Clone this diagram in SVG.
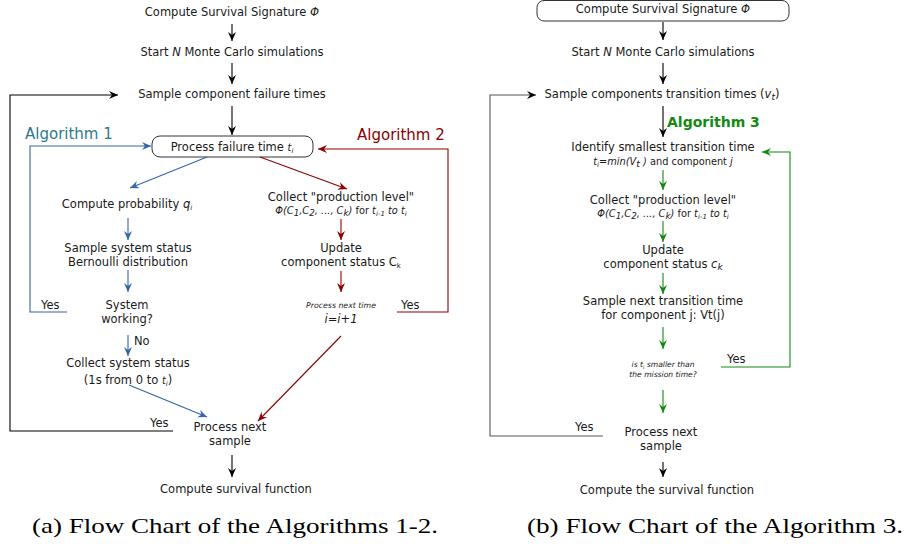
<svg xmlns="http://www.w3.org/2000/svg" width="907" height="550" viewBox="0 0 907 550">
<style>
text{font-family:"DejaVu Sans",Verdana,sans-serif;font-size:11.5px;fill:#1a1a1a}
.c{text-anchor:middle}
.i{font-style:italic}
.sm{font-size:9.8px}
.xs{font-size:7.8px;font-style:italic}
.sub{font-size:7px}
.fs{font-size:8.8px}
.cap{font-family:"Liberation Serif","DejaVu Serif",serif;font-size:21px;fill:#000}
.k{fill:none;stroke:#000;stroke-width:1.1}
.b{fill:none;stroke:#3465a4;stroke-width:1.1}
.r{fill:none;stroke:#8b0000;stroke-width:1.1}
.g{fill:none;stroke:#128a12;stroke-width:1.1}
</style>
<defs>
<marker id="ak" markerUnits="userSpaceOnUse" markerWidth="12" markerHeight="10" refX="0" refY="0" viewBox="-10 -5 12 10" orient="auto"><path d="M0,0 L-9,-4 L-6,0 L-9,4 z" fill="#000"/></marker>
<marker id="ab" markerUnits="userSpaceOnUse" markerWidth="12" markerHeight="10" refX="0" refY="0" viewBox="-10 -5 12 10" orient="auto"><path d="M0,0 L-9,-4 L-6,0 L-9,4 z" fill="#3465a4"/></marker>
<marker id="ar" markerUnits="userSpaceOnUse" markerWidth="12" markerHeight="10" refX="0" refY="0" viewBox="-10 -5 12 10" orient="auto"><path d="M0,0 L-9,-4 L-6,0 L-9,4 z" fill="#8b0000"/></marker>
<marker id="ag" markerUnits="userSpaceOnUse" markerWidth="12" markerHeight="10" refX="0" refY="0" viewBox="-10 -5 12 10" orient="auto"><path d="M0,0 L-9,-4 L-6,0 L-9,4 z" fill="#128a12"/></marker>
</defs>

<!-- ===== Left panel (a) ===== -->
<g id="a-signature"><text class="c" x="232" y="16">Compute Survival Signature <tspan class="i">Φ</tspan></text></g>
<g id="a-start"><text class="c" x="232" y="56">Start <tspan class="i">N</tspan> Monte Carlo simulations</text></g>
<g id="a-sample"><text class="c" x="232" y="98">Sample component failure times</text></g>
<g id="a-process">
<rect x="152" y="136" width="161" height="21" rx="8" fill="#fff" stroke="#333" stroke-width="1"/>
<text class="c" x="232" y="151">Process failure time <tspan class="i sm">t</tspan><tspan class="i sub" dy="2">i</tspan></text>
</g>
<g id="a-alg1"><text x="25" y="139" style="font-size:15px;fill:#2b7a8a">Algorithm 1</text></g>
<g id="a-alg2"><text x="357" y="140" style="font-size:15px;fill:#8b0000">Algorithm 2</text></g>
<g id="a-prob"><text class="c" x="127" y="208">Compute probability <tspan class="i">q</tspan><tspan class="i sub" dy="2">i</tspan></text></g>
<g id="a-sys-status"><text class="c" x="128" y="252">Sample system status</text><text class="c" x="128" y="266">Bernoulli distribution</text></g>
<g id="a-working"><text class="c" x="127" y="309">System</text><text class="c" x="127" y="323">working?</text></g>
<g id="a-collect-sys"><text class="c" x="128" y="367">Collect system status</text><text class="c" x="128" y="384">(1s from 0 to <tspan class="i sm">t</tspan><tspan class="i sub" dy="2">i</tspan><tspan dy="-2">)</tspan></text></g>
<g id="a-collect-prod"><text class="c" x="341" y="201">Collect "production level"</text>
<text class="c sm" x="341" y="214"><tspan class="i">Φ(C</tspan><tspan class="i fs" dy="2">1</tspan><tspan class="i" dy="-2">,C</tspan><tspan class="i fs" dy="2">2</tspan><tspan class="i" dy="-2">, ..., C</tspan><tspan class="i fs" dy="2">k</tspan><tspan class="i" dy="-2">)</tspan> for <tspan class="i">t</tspan><tspan class="i sub" dy="2">i-1</tspan><tspan class="i" dy="-2"> to t</tspan><tspan class="i sub" dy="2">i</tspan></text></g>
<g id="a-update"><text class="c" x="341" y="252">Update</text><text class="c" x="341" y="266">component status C<tspan class="sub" dy="2">k</tspan></text></g>
<g id="a-next-time"><text class="c xs" x="341" y="308">Process next time</text><text class="c i" x="341" y="323">i=i+1</text></g>
<g id="a-next-sample"><text class="c" x="230" y="431">Process next</text><text class="c" x="230" y="445">sample</text></g>
<g id="a-survival"><text class="c" x="236" y="493">Compute survival function</text></g>

<!-- ===== Right panel (b) ===== -->
<g id="b-signature">
<rect x="537" y="0.5" width="252" height="20.5" rx="7" fill="#fff" stroke="#333" stroke-width="1"/>
<text class="c" x="663" y="13">Compute Survival Signature <tspan class="i">Φ</tspan></text>
</g>
<g id="b-start"><text class="c" x="663" y="56">Start <tspan class="i">N</tspan> Monte Carlo simulations</text></g>
<g id="b-sample"><text class="c" x="662" y="98">Sample components transition times (<tspan class="i">v</tspan><tspan class="i sub" dy="2" style="font-size:9px">t</tspan><tspan dy="-2">)</tspan></text></g>
<g id="b-alg3"><text x="667" y="127" style="font-size:14px;font-weight:bold;fill:#128a12">Algorithm 3</text></g>
<g id="b-identify"><text class="c" x="663" y="151">Identify smallest transition time</text>
<text class="c sm" x="663" y="165"><tspan class="i">t</tspan><tspan class="i sub" dy="2">i</tspan><tspan class="i" dy="-2">=min(V</tspan><tspan class="i" dy="2" style="font-size:9.5px">t</tspan><tspan class="i" dy="-2"> )</tspan> and component <tspan class="i">j</tspan></text></g>
<g id="b-collect-prod"><text class="c" x="663" y="204">Collect "production level"</text>
<text class="c sm" x="663" y="217"><tspan class="i">Φ(C</tspan><tspan class="i fs" dy="2">1</tspan><tspan class="i" dy="-2">,C</tspan><tspan class="i fs" dy="2">2</tspan><tspan class="i" dy="-2">, ..., C</tspan><tspan class="i fs" dy="2">k</tspan><tspan class="i" dy="-2">)</tspan> for <tspan class="i">t</tspan><tspan class="i sub" dy="2">i-1</tspan><tspan class="i" dy="-2"> to t</tspan><tspan class="i sub" dy="2">i</tspan></text></g>
<g id="b-update"><text class="c" x="663" y="254">Update</text><text class="c" x="663" y="268">component status <tspan class="i">c</tspan><tspan class="i" dy="2" style="font-size:9px">k</tspan></text></g>
<g id="b-next-transition"><text class="c" x="663" y="305">Sample next transition time</text><text class="c" x="663" y="319">for component j: Vt(j)</text></g>
<g id="b-mission"><text class="c" x="663" y="367" style="font-size:7.6px;font-style:italic">is t<tspan dy="1.5" style="font-size:5px">i</tspan><tspan dy="-1.5"> smaller than</tspan></text><text class="c" x="663" y="377" style="font-size:7.6px;font-style:italic">the mission time?</text></g>
<g id="b-next-sample"><text class="c" x="661" y="436">Process next</text><text class="c" x="661" y="450">sample</text></g>
<g id="b-survival"><text class="c" x="667" y="494">Compute the survival function</text></g>

<!-- ===== Connectors ===== -->
<g id="connectors">
<line class="k" x1="232" y1="24" x2="232" y2="41" marker-end="url(#ak)"/>
<line class="k" x1="232" y1="63" x2="232" y2="84" marker-end="url(#ak)"/>
<line class="k" x1="232" y1="106" x2="232" y2="135" marker-end="url(#ak)"/>
<polyline class="k" points="173,431 10,431 10,95 118,95" marker-end="url(#ak)"/>
<line class="k" x1="232" y1="455" x2="232" y2="477" marker-end="url(#ak)"/>
<line class="b" x1="207" y1="157" x2="130" y2="188" marker-end="url(#ab)"/>
<line class="b" x1="128" y1="218" x2="128" y2="240" marker-end="url(#ab)"/>
<line class="b" x1="128" y1="270" x2="128" y2="292" marker-end="url(#ab)"/>
<line class="b" x1="128" y1="335" x2="128" y2="356" marker-end="url(#ab)"/>
<line class="b" x1="129" y1="385" x2="207" y2="417" marker-end="url(#ab)"/>
<polyline class="b" points="67,312 30,312 30,146 151,146" marker-end="url(#ab)"/>
<line class="r" x1="260" y1="157" x2="347" y2="189" marker-end="url(#ar)"/>
<line class="r" x1="341" y1="219" x2="341" y2="240" marker-end="url(#ar)"/>
<line class="r" x1="341" y1="271" x2="341" y2="292" marker-end="url(#ar)"/>
<line class="r" x1="341" y1="336" x2="258" y2="421" marker-end="url(#ar)"/>
<polyline class="r" points="397,312 448,312 448,149 318,149" marker-end="url(#ar)"/>
<line class="k" x1="663" y1="22" x2="663" y2="40" marker-end="url(#ak)"/>
<line class="k" x1="663" y1="63" x2="663" y2="84" marker-end="url(#ak)"/>
<line class="k" x1="663" y1="106" x2="663" y2="137" marker-end="url(#ak)"/>
<polyline class="k" points="603,436 490,436 490,95 536,95" marker-end="url(#ak)" style="stroke:#555"/>
<line class="k" x1="663" y1="462" x2="663" y2="477" marker-end="url(#ak)"/>
<line class="g" x1="663" y1="170" x2="663" y2="190" marker-end="url(#ag)"/>
<line class="g" x1="663" y1="221" x2="663" y2="242" marker-end="url(#ag)"/>
<line class="g" x1="663" y1="273" x2="663" y2="294" marker-end="url(#ag)"/>
<line class="g" x1="663" y1="327" x2="663" y2="349" marker-end="url(#ag)"/>
<line class="g" x1="663" y1="390" x2="663" y2="413" marker-end="url(#ag)"/>
<polyline class="g" points="721,367 790,367 790,152 762,152" marker-end="url(#ag)"/>
</g>

<g id="labels">
<text x="150" y="427">Yes</text>
<text x="41" y="309">Yes</text>
<text x="134" y="345">No</text>
<text x="401" y="309">Yes</text>
<text x="575" y="431">Yes</text>
<text x="727" y="363">Yes</text>
</g>

<text class="cap" x="32" y="533" textLength="406" lengthAdjust="spacingAndGlyphs">(a) Flow Chart of the Algorithms 1-2.</text>
<text class="cap" x="527" y="533" textLength="376" lengthAdjust="spacingAndGlyphs">(b) Flow Chart of the Algorithm 3.</text>
</svg>
